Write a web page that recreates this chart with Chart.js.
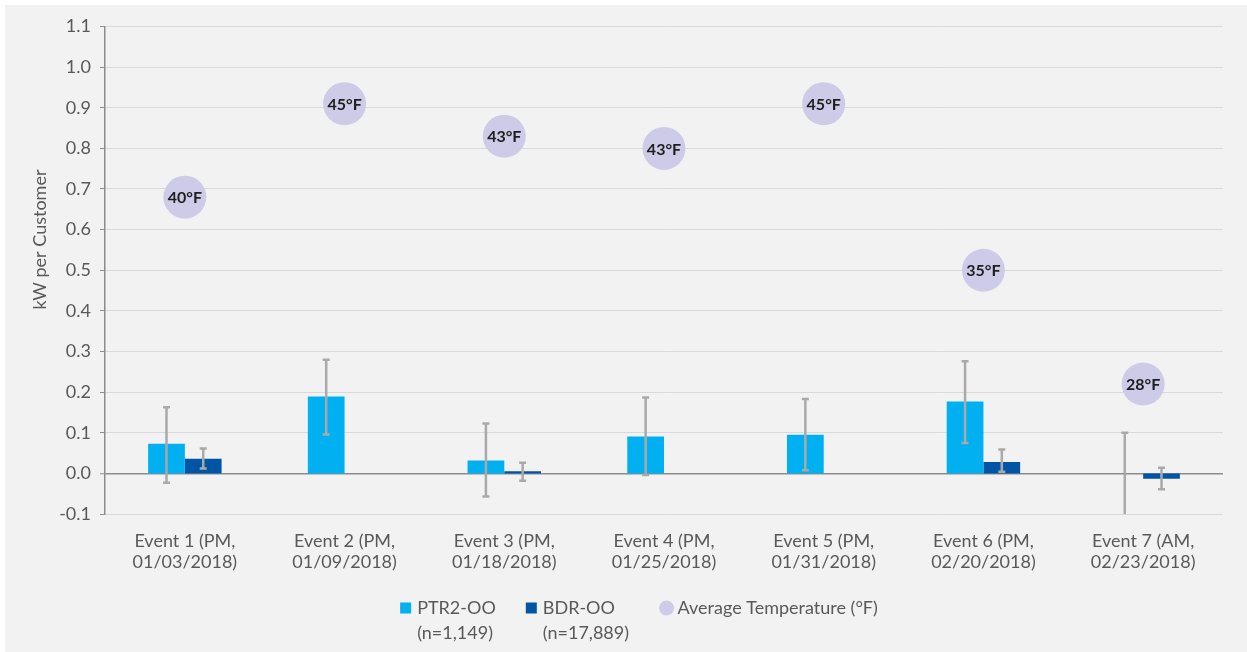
<!DOCTYPE html>
<html>
<head>
<meta charset="utf-8">
<title>Event impacts</title>
<script src="https://cdn.jsdelivr.net/npm/chart.js@4.4.1/dist/chart.umd.min.js"></script>
<style>
  html, body { margin: 0; padding: 0; background: #ffffff; }
  #wrap { position: absolute; left: 5px; top: 5px; width: 1242px; height: 647px; background: #f2f2f2; }
  canvas { display: block; }
</style>
</head>
<body>
<div id="wrap"><canvas id="chart" width="1242" height="647"></canvas></div>
<script>
// Event categories (two-line tick labels)
const categories = [
  ["Event 1 (PM,", "01/03/2018)"],
  ["Event 2 (PM,", "01/09/2018)"],
  ["Event 3 (PM,", "01/18/2018)"],
  ["Event 4 (PM,", "01/25/2018)"],
  ["Event 5 (PM,", "01/31/2018)"],
  ["Event 6 (PM,", "02/20/2018)"],
  ["Event 7 (AM,", "02/23/2018)"]
];

// Average load impact, kW per customer
const ptrValues = [0.073, 0.189, 0.032, 0.091, 0.095, 0.177, 0.0];
const bdrValues = [0.036, null, 0.005, null, null, 0.028, -0.013];

// Confidence interval bounds for each bar
const ptrLow  = [-0.023, 0.096, -0.057, -0.004, 0.008, 0.075, -0.104];
const ptrHigh = [0.163, 0.280, 0.123, 0.187, 0.183, 0.276, 0.100];
const bdrLow  = [0.012, null, -0.018, null, null, 0.004, -0.039];
const bdrHigh = [0.061, null, 0.026, null, null, 0.059, 0.014];

// Average temperature markers: vertical placement and label
const tempPositions = [0.68, 0.91, 0.83, 0.80, 0.91, 0.50, 0.22];
const tempLabels = ["40°F", "45°F", "43°F", "43°F", "45°F", "35°F", "28°F"];

// Legend text, one entry per dataset
const legendLabels = [
  ["PTR2-OO", "(n=1,149)"],
  ["BDR-OO", "(n=17,889)"],
  ["Average Temperature (°F)"]
];

// Y axis ticks
const yMin = -0.1, yMax = 1.1, yStep = 0.1;
const yTitle = "kW per Customer";

const FONT = 'Lato, "Open Sans", "DejaVu Sans", sans-serif';
const TEXT = '#595959';

Chart.defaults.font.family = FONT;
Chart.defaults.color = TEXT;

// Whiskers for the confidence intervals, drawn at each bar's centre
const errorBars = {
  id: 'errorBars',
  afterDatasetsDraw(chart) {
    const ctx = chart.ctx;
    const y = chart.scales.y;
    const area = chart.chartArea;
    const sets = [[0, ptrLow, ptrHigh], [1, bdrLow, bdrHigh]];
    ctx.save();
    ctx.beginPath();
    ctx.rect(area.left, area.top, area.right - area.left, area.bottom - area.top);
    ctx.clip();
    ctx.strokeStyle = '#a9a9a9';
    ctx.lineWidth = 2.5;
    ctx.lineCap = 'butt';
    sets.forEach(([idx, lo, hi]) => {
      const meta = chart.getDatasetMeta(idx);
      meta.data.forEach((el, j) => {
        if (lo[j] == null || hi[j] == null) return;
        const x = el.x;
        const y1 = y.getPixelForValue(hi[j]);
        const y2 = y.getPixelForValue(lo[j]);
        ctx.beginPath();
        ctx.moveTo(x, y1);
        ctx.lineTo(x, y2);
        ctx.moveTo(x - 3.5, y1);
        ctx.lineTo(x + 3.5, y1);
        ctx.moveTo(x - 3.5, y2);
        ctx.lineTo(x + 3.5, y2);
        ctx.stroke();
      });
    });
    ctx.restore();
  }
};

// Temperature text inside each bubble
const bubbleText = {
  id: 'bubbleText',
  afterDatasetsDraw(chart) {
    const ctx = chart.ctx;
    const meta = chart.getDatasetMeta(2);
    ctx.save();
    ctx.font = 'bold 16px ' + FONT;
    ctx.fillStyle = '#1e1e1e';
    ctx.textAlign = 'center';
    ctx.textBaseline = 'middle';
    meta.data.forEach((el, j) => {
      ctx.fillText(tempLabels[j], el.x, el.y + 1);
    });
    ctx.restore();
  }
};

// Rotated y axis title
const axisTitle = {
  id: 'axisTitle',
  afterDraw(chart) {
    const ctx = chart.ctx;
    const a = chart.chartArea;
    ctx.save();
    ctx.translate(35, a.top + (a.bottom - a.top) * 0.437);
    ctx.rotate(-Math.PI / 2);
    ctx.font = '18px ' + FONT;
    ctx.fillStyle = TEXT;
    ctx.textAlign = 'center';
    ctx.textBaseline = 'middle';
    ctx.fillText(yTitle, 0, 0);
    ctx.restore();
  }
};

// Legend row under the axis: square keys for bars, round key for bubbles,
// labels may wrap onto a second line
const legendRow = {
  id: 'legendRow',
  afterDraw(chart) {
    const ctx = chart.ctx;
    const lineGap = 25;
    const itemGap = 30;
    const firstLineY = 603;
    const centerX = 634;
    ctx.save();
    ctx.font = '18px ' + FONT;
    ctx.textBaseline = 'middle';
    ctx.textAlign = 'left';
    const items = chart.data.datasets.map((ds, i) => {
      const lines = legendLabels[i];
      const isBubble = ds.type === 'bubble';
      const keyW = isBubble ? 15 : 11;
      const keyGap = isBubble ? 3.5 : 6;
      const textW = Math.max(...lines.map((l) => ctx.measureText(l).width));
      return { ds, lines, isBubble, keyW, keyGap, width: keyW + keyGap + textW };
    });
    const total = items.reduce((s, it) => s + it.width, 0) + itemGap * (items.length - 1);
    let x = centerX - total / 2;
    items.forEach((it) => {
      ctx.fillStyle = it.ds.backgroundColor;
      if (it.isBubble) {
        ctx.beginPath();
        ctx.arc(x + it.keyW / 2, firstLineY, it.keyW / 2, 0, Math.PI * 2);
        ctx.fill();
      } else {
        ctx.fillRect(x, firstLineY - 5.5, it.keyW, 11);
      }
      ctx.fillStyle = TEXT;
      it.lines.forEach((l, k) => {
        ctx.fillText(l, x + it.keyW + it.keyGap, firstLineY + k * lineGap);
      });
      x += it.width + itemGap;
    });
    ctx.restore();
  }
};

new Chart(document.getElementById('chart'), {
  type: 'bar',
  data: {
    labels: categories,
    datasets: [
      {
        label: 'PTR2-OO (n=1,149)',
        data: ptrValues,
        backgroundColor: '#00b0f0',
        borderWidth: 0,
        order: 2
      },
      {
        label: 'BDR-OO (n=17,889)',
        data: bdrValues,
        backgroundColor: '#0055a5',
        borderWidth: 0,
        order: 2
      },
      {
        type: 'bubble',
        label: 'Average Temperature (°F)',
        data: tempPositions.map((v, i) => ({ x: i, y: v, r: 21.5 })),
        backgroundColor: '#cdcbe8',
        borderWidth: 0,
        hoverRadius: 0,
        order: 1
      }
    ]
  },
  options: {
    responsive: false,
    animation: false,
    events: [],
    layout: { padding: { top: 17, right: 24, left: 0, bottom: 0 } },
    datasets: {
      bar: { categoryPercentage: 0.46, barPercentage: 1.0 }
    },
    scales: {
      x: {
        type: 'category',
        offset: true,
        grid: { display: false, drawTicks: false },
        border: { display: false },
        ticks: {
          font: { size: 18, lineHeight: 1.2 },
          color: TEXT,
          maxRotation: 0,
          autoSkip: false,
          padding: 16
        },
        afterFit(scale) { scale.height = 647 - 509; }
      },
      y: {
        min: yMin,
        max: yMax,
        ticks: {
          stepSize: yStep,
          font: { size: 18 },
          color: TEXT,
          padding: 9,
          callback: (v) => Number(v).toFixed(1)
        },
        grid: {
          color: (c) => (c.tick && Math.abs(c.tick.value) < 1e-9) ? '#8c8c8c' : '#d9d9d9',
          lineWidth: (c) => (c.tick && Math.abs(c.tick.value) < 1e-9) ? 1.5 : 1,
          tickColor: '#8c8c8c',
          tickLength: 5,
          tickWidth: 1
        },
        border: { display: true, color: '#8c8c8c', width: 1.5 },
        afterFit(scale) { scale.width = 100; }
      }
    },
    plugins: {
      tooltip: { enabled: false },
      legend: { display: false }
    }
  },
  plugins: [errorBars, bubbleText, axisTitle, legendRow]
});
</script>
</body>
</html>
